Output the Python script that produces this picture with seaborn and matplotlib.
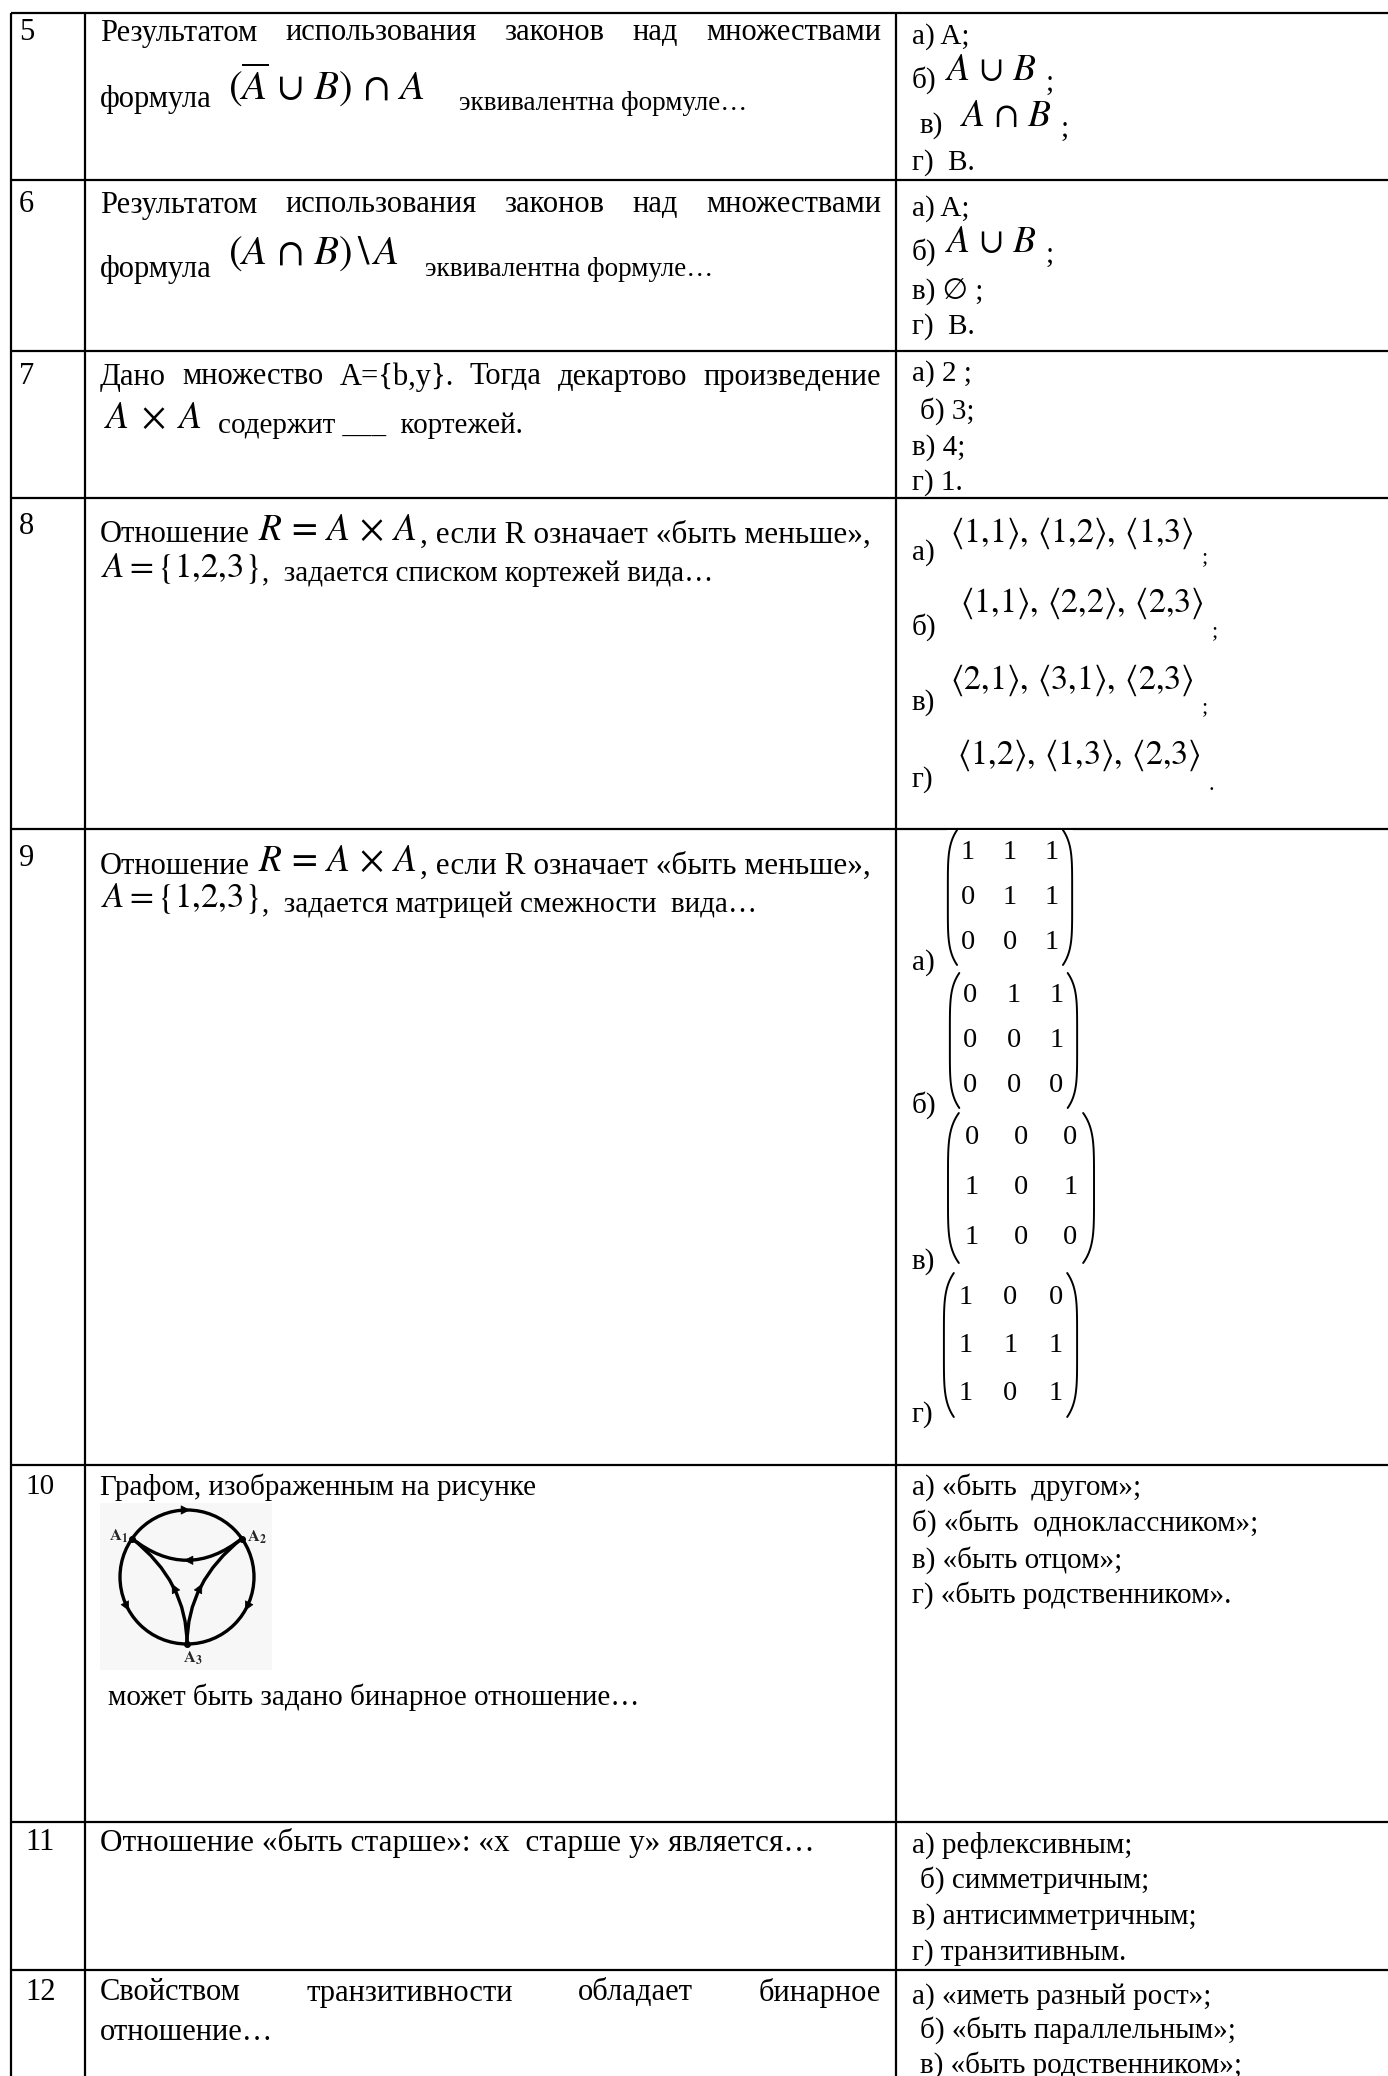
import numpy as np
import seaborn as sns
import matplotlib
matplotlib.use("Agg")
import matplotlib.pyplot as plt
from matplotlib.colors import ListedColormap
from matplotlib.patches import Circle, Rectangle, PathPatch
from matplotlib.path import Path

# ==========================================
# 1. DATOS (textos de la tabla)
# ==========================================
NUMEROS = ["5", "6", "7", "8", "9", "10", "11", "12"]
LETRAS = ["а)", "б)", "в)", "г)"]

Q5_L1 = ["Результатом", "использования", "законов", "над", "множествами"]
Q_FORMULA = "формула"
Q_EQUIV = "эквивалентна формуле…"
F5 = r"$(\overline{A}\,\cup\, B)\,\cap\, A$"
F6 = r"$(A\,\cap\, B)\,\backslash\, A$"
Q7_L1 = ["Дано", "множество", "A={b,y}.", "Тогда", "декартово", "произведение"]
F7 = r"$A\;\times\;A$"
Q7_L2 = "содержит ___  кортежей."
Q8_L1 = ["Отношение", r"$R\,=\,A\,\times\,A$", ", если R означает «быть меньше»,"]
F_SET = r"$A=\{1{,}2{,}3\}$"
Q8_L2 = ",  задается списком кортежей вида…"
Q9_L2 = ",  задается матрицей смежности  вида…"
Q10_L1 = "Графом, изображенным на рисунке"
Q10_L2 = "может быть задано бинарное отношение…"
Q11 = "Отношение «быть старше»: «x  старше y» является…"
Q12_L1 = ["Свойством", "транзитивности", "обладает", "бинарное"]
Q12_L2 = "отношение…"

ANS_5 = [["а) A;"], ["б)", r"$A\,\cup\, B$", ";"], ["в)", r"$A\,\cap\, B$", ";"], ["г)  B."]]
ANS_6 = [["а) A;"], ["б)", r"$A\,\cup\, B$", ";"], ["в) ∅ ;"], ["г)  B."]]
ANS_7 = ["а) 2 ;", "б) 3;", "в) 4;", "г) 1."]
TUPLAS_8 = [[(1, 1), (1, 2), (1, 3)],
            [(1, 1), (2, 2), (2, 3)],
            [(2, 1), (3, 1), (2, 3)],
            [(1, 2), (1, 3), (2, 3)]]
FIN_8 = [";", ";", ";", "."]
MATRICES_9 = [[[1, 1, 1], [0, 1, 1], [0, 0, 1]],
              [[0, 1, 1], [0, 0, 1], [0, 0, 0]],
              [[0, 0, 0], [1, 0, 1], [1, 0, 0]],
              [[1, 0, 0], [1, 1, 1], [1, 0, 1]]]
ANS_10 = ["а) «быть  другом»;", "б) «быть  одноклассником»;", "в) «быть отцом»;", "г) «быть родственником»."]
ANS_11 = ["а) рефлексивным;", "б) симметричным;", "в) антисимметричным;", "г) транзитивным."]
ANS_12 = ["а) «иметь разный рост»;", "б) «быть параллельным»;", "в) «быть родственником»;"]

NODOS = ["1", "2", "3"]
ARISTAS_EXT = [(0, 1), (0, 2), (1, 2)]     # arcos de la circunferencia
ARISTAS_INT = [(1, 0), (2, 0), (2, 1)]     # curvas interiores

# ==========================================
# 2. GEOMETRÍA (pixeles)
# ==========================================
W, H = 1388, 2076
LEFT, COL1, COL2 = 11, 85, 896
FILAS = [13, 180, 351, 498, 829, 1465, 1822, 1970]
FQ = 22      # texto de preguntas
FS = 21      # respuestas
FM = 27      # formulas
SERIF = ["Liberation Serif", "DejaVu Serif", "DejaVu Sans"]

sns.set_theme(style="white")
plt.rcParams["font.family"] = SERIF
plt.rcParams["mathtext.fontset"] = "stix"

fig = plt.figure(figsize=(W / 100, H / 100), dpi=100)
ax = fig.add_axes([0, 0, 1, 1])
ax.set_xlim(0, W)
ax.set_ylim(H, 0)
ax.axis("off")
renderer = fig.canvas.get_renderer()


def put(x, y, s, size=FS, **kw):
    return ax.text(x, y, s, fontsize=size, va="center", ha="left", color="black", **kw)


def ancho(t):
    return t.get_window_extent(renderer).width


def justificar(words, x0, x1, y, size=FQ):
    objs = [put(0, y, w, size) for w in words]
    anchos = [ancho(o) for o in objs]
    hueco = (x1 - x0 - sum(anchos)) / (len(words) - 1)
    x = x0
    for o, a in zip(objs, anchos):
        o.set_x(x)
        x += a + hueco


# --- lineas de la tabla ---
ax.hlines(FILAS, LEFT, W, color="black", lw=1.6)
ax.vlines([LEFT, COL1, COL2], FILAS[0], H, color="black", lw=1.6)

# --- numeros ---
num_y = [33, 205, 377, 527, 858, 1487, 1843, 1993]
for n, y in zip(NUMEROS, num_y):
    put(19 if len(n) == 1 else 25, y, n, FS if n == "10" else FQ)

# --- preguntas ---
justificar(Q5_L1, 100, 881, 33)
put(100, 100, Q_FORMULA, FQ)
put(228, 84, F5, 29.5)
put(459, 103, Q_EQUIV, 19.5)

justificar(Q5_L1, 100, 881, 205)
put(100, 270, Q_FORMULA, FQ)
put(228, 254, F6, 29.5)
put(425, 270, Q_EQUIV, 19.5)

justificar(Q7_L1, 100, 881, 377)
put(104, 419, F7, FM)
put(218, 426, Q7_L2, FS)

for dy, l2 in [(0, Q8_L2), (331, Q9_L2)]:
    t0 = put(100, 535 + dy, Q8_L1[0], FQ)
    x = 100 + ancho(t0) + 8
    t1 = put(x, 531 + dy, Q8_L1[1], FM)
    x += ancho(t1) + 3
    put(x, 535 + dy, Q8_L1[2], 22.5)
    t2 = put(101, 568 + dy, F_SET, 25)
    put(101 + ancho(t2) + 3, 574 + dy, l2, FS)

put(100, 1487, Q10_L1, FS)
put(108, 1697, Q10_L2, FS)
put(100, 1843, Q11, 22.5)
justificar(Q12_L1, 100, 881, 1993)
put(100, 2033, Q12_L2, FQ)

# --- respuestas 5 y 6 ---
for ans, base in [(ANS_5, 0), (ANS_6, 172)]:
    ys = [37, 80, 126, 163] if base == 0 else [37, 80, 120, 155]
    for seg, y in zip(ans, ys):
        y = y + base
        if len(seg) == 1:
            put(912, y, seg[0])
        else:
            xl = 912 if seg[0] == "б)" else 920
            xm = 945 if seg[0] == "б)" else 960
            put(xl, y, seg[0])
            m = put(xm, y - 9, seg[1], FM)
            put(xm + ancho(m) + 8, y + 3, seg[2])

# --- respuestas 7 ---
for s, y in zip(ANS_7, [374, 411, 448, 483]):
    put(920 if s.startswith("б") else 912, y, s)

# --- respuestas 8 (tuplas) ---
for i, (tup, fin) in enumerate(zip(TUPLAS_8, FIN_8)):
    y_lab = [553, 627, 703, 780][i]
    y_mat = [533, 603, 680, 755][i]
    x_mat = [950, 960, 950, 957][i]
    put(912, y_lab, LETRAS[i])
    txt = r",\,".join(r"\langle %d{,}%d\rangle" % t for t in tup)
    t = put(x_mat, y_mat, "$" + txt + "$", 24.5)
    put(x_mat + ancho(t) + 8, y_lab + 5, fin, 16)

# --- respuestas 9 (matrices con heatmap) ---
CAJAS = [(947, 830, 126, 135), (949, 973, 129, 135), (947, 1113, 148, 150), (943, 1273, 135, 144)]
for i, (mat, caja) in enumerate(zip(MATRICES_9, CAJAS)):
    put(912, [963, 1105, 1262, 1415][i], LETRAS[i])
    l, tp, w, h = caja
    iax = fig.add_axes([l / W, 1 - (tp + h) / H, w / W, h / H])
    sns.heatmap(np.array(mat), ax=iax, annot=True, fmt="d", cbar=False,
                cmap=ListedColormap(["white"]), xticklabels=False, yticklabels=False,
                annot_kws={"fontsize": 20.5, "family": SERIF, "color": "black"})
    iax.axis("off")
    tt = np.linspace(-1, 1, 60)
    yy = 1.5 + 1.5 * tt
    curva = 0.22 * np.abs(tt) ** 5
    iax.plot(0.02 + curva, yy, color="black", lw=1.4, clip_on=False)
    iax.plot(2.98 - curva, yy, color="black", lw=1.4, clip_on=False)

# --- respuestas 10, 11, 12 ---
for s, y in zip(ANS_10, [1487, 1523, 1560, 1595]):
    put(912, y, s)
for s, y in zip(ANS_11, [1845, 1880, 1917, 1953]):
    put(920 if s.startswith("б") else 912, y, s)
for s, y in zip(ANS_12, [1997, 2030, 2065]):
    put(912 if s.startswith("а") else 920, y, s)

# --- grafo de la pregunta 10 ---
ax.add_patch(Rectangle((100, 1503), 172, 167, color="#f7f7f7", lw=0, zorder=0))
cx, cy, r = 187, 1577, 67
ax.add_patch(Circle((cx, cy), r, fill=False, color="black", lw=2.4))
ang = np.radians([215, 325, 90])
pos = np.c_[cx + r * np.cos(ang), cy + r * np.sin(ang)]


def flecha(p, d):
    d = np.array(d) / np.hypot(*d)
    ax.annotate("", xy=p + 6 * d, xytext=p - 6 * d,
                arrowprops=dict(arrowstyle="-|>", color="black", lw=0.5, mutation_scale=15))


# arcos exteriores: flecha en el punto medio del arco
for a, b in ARISTAS_EXT:
    t0, t1 = np.degrees(ang[a]), np.degrees(ang[b])
    if t0 > t1 and a == 0 and b == 2:
        tm, sgn = (t0 + t1) / 2, -1
    elif t1 < t0:
        tm, sgn = (t0 + t1 + 360) / 2, 1
    else:
        tm, sgn = (t0 + t1) / 2, 1
    th = np.radians(tm)
    p = np.array([cx + r * np.cos(th), cy + r * np.sin(th)])
    flecha(p, (-sgn * np.sin(th), sgn * np.cos(th)))

# curvas interiores (bezier cuadratica con control cerca del centro)
ctrl = np.array([cx, cy + 5])
for a, b in ARISTAS_INT:
    p0, p2 = pos[a], pos[b]
    ax.add_patch(PathPatch(Path([p0, ctrl, p2], [Path.MOVETO, Path.CURVE3, Path.CURVE3]),
                           fill=False, color="black", lw=2.4))
    mid = 0.25 * p0 + 0.5 * ctrl + 0.25 * p2
    flecha(mid, p2 - p0)

ax.scatter(pos[:, 0], pos[:, 1], s=16, color="black", zorder=5)
etq = [(128, 1536, "right"), (247, 1537, "left"), (193, 1658, "center")]
for n, (x, y, ha) in zip(NODOS, etq):
    ax.text(x, y, r"$\mathbf{A_%s}$" % n, fontsize=12, ha=ha, va="center")

fig.savefig("out.png", dpi=100)
